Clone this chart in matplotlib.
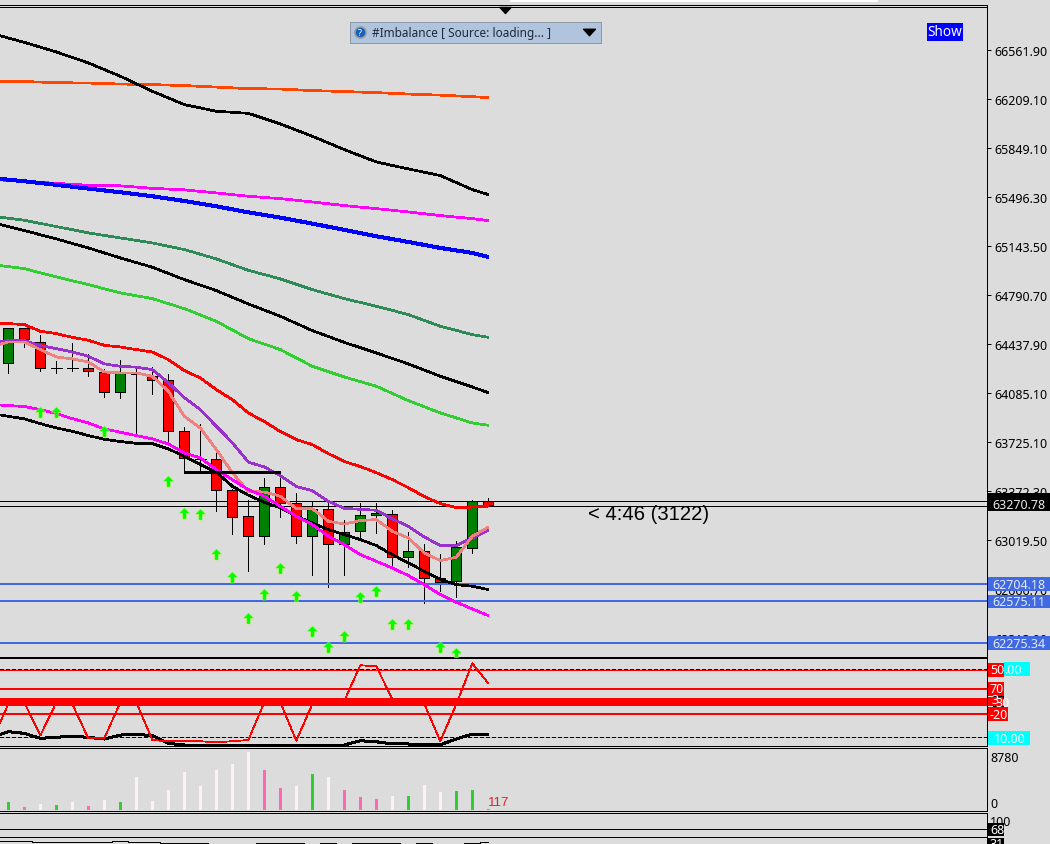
import numpy as np
import matplotlib
matplotlib.use("Agg")
import matplotlib.pyplot as plt
from matplotlib.lines import Line2D
from matplotlib.patches import Rectangle
from matplotlib.path import Path

W, H = 1050, 845
BG = '#DCDCDC'

# candles, bar 0..30
opens = [64308.3, 64560.3, 64459.5, 64272.3, 64272.3, 64272.3, 64243.5, 64099.5, 64229.1, 64214.7,
         64185.9, 63818.7, 63617.1, 63617.1, 63393.9, 63206.7, 63062.7, 63415.5, 63300.3, 63062.7,
         63257.1, 63005.1, 63098.7, 63213.9, 63221.1, 62911.5, 62954.7, 62760.3, 62738.7, 62976.3, 63314.7]
closes = [64560.3, 64481.1, 64272.3, 64272.3, 64272.3, 64246.0, 64099.5, 64243.5, 64229.1, 64185.9,
          63818.7, 63624.3, 63617.1, 63393.9, 63199.5, 63062.7, 63415.5, 63300.3, 63062.7, 63257.1,
          63005.1, 63091.5, 63213.9, 63228.3, 62911.5, 62954.7, 62760.3, 62731.5, 62983.5, 63314.7, 63285.9]
highs = [64560.3, 64560.3, 64509.9, 64322.7, 64452.3, 64373.1, 64265.1, 64329.9, 64286.7, 64279.5,
         64229.1, 63847.5, 63869.1, 63667.5, 63400.0, 63321.9, 63480.3, 63480.3, 63372.3, 63307.5,
         63307.5, 63177.9, 63300.3, 63300.3, 63249.9, 63091.5, 63005.1, 62933.1, 63026.7, 63321.9, 63336.3]
lows = [64236.3, 64423.5, 64250.7, 64236.3, 64250.7, 64214.7, 64063.5, 64056.3, 63797.1, 64085.1,
        63739.5, 63516.3, 63523.5, 63242.7, 63077.1, 62810.7, 63005.1, 63199.5, 63012.3, 62781.9,
        62695.5, 62781.9, 63033.9, 63084.3, 62853.9, 62839.5, 62580.3, 62666.7, 62623.5, 62940.3, 63285.9]

# slow averages, read every second bar
slow_idx = [-1, 1, 3, 5, 7, 9, 11, 13, 15, 17, 19, 21, 23, 25, 27, 29, 30]
orange_ma = [66335, 66332, 66324, 66321, 66314, 66310, 66303, 66292, 66281, 66278, 66267, 66260, 66252, 66242, 66234, 66223, 66216]
black_top = [66677, 66614, 66545, 66466, 66370, 66262, 66166, 66118, 66103, 66027, 65938, 65842, 65753, 65703, 65655, 65554, 65518]
magenta_top = [65626, 65614, 65599, 65585, 65581, 65563, 65552, 65530, 65506, 65489, 65465, 65439, 65417, 65393, 65367, 65345, 65331]
blue_ma = [65637, 65614, 65588, 65561, 65535, 65506, 65472, 65434, 65390, 65352, 65309, 65264, 65218, 65177, 65134, 65098, 65069]
sea_ma = [65363, 65333, 65288, 65242, 65206, 65170, 65122, 65055, 64973, 64911, 64834, 64769, 64714, 64654, 64570, 64510, 64490]
black_mid = [65316, 65259, 65199, 65134, 65062, 64995, 64906, 64827, 64731, 64642, 64539, 64454, 64378, 64299, 64210, 64133, 64092]
lime_ma = [65014, 64985, 64925, 64870, 64810, 64769, 64697, 64606, 64481, 64402, 64282, 64205, 64138, 64035, 63946, 63874, 63857]

# fast averages, every bar from -1
fast_idx = list(range(-1, 31))
red_ma = [64596, 64589, 64582, 64534, 64517, 64490, 64469, 64433, 64421, 64402, 64385, 64330, 64251, 64198, 64114, 64042,
          63946, 63884, 63812, 63754, 63718, 63653, 63596, 63560, 63516, 63466, 63408, 63344, 63293, 63264, 63268, 63275]
purple_ma = [64452, 64467, 64467, 64431, 64409, 64385, 64354, 64299, 64282, 64275, 64258, 64164, 64056, 63970, 63850, 63732,
             63592, 63557, 63495, 63416, 63387, 63310, 63259, 63252, 63245, 63183, 63130, 63053, 62991, 62991, 63046, 63101]
salmon_ma = [64424, 64457, 64457, 64402, 64349, 64335, 64313, 64241, 64234, 64234, 64210, 64102, 63922, 63838, 63682, 63516,
             63380, 63377, 63346, 63257, 63257, 63166, 63146, 63171, 63178, 63094, 63046, 62938, 62883, 62907, 63058, 63123]
magenta_low = [64006, 63999, 63992, 63970, 63941, 63905, 63874, 63831, 63807, 63783, 63759, 63723, 63658, 63622, 63538, 63466,
               63394, 63346, 63274, 63202, 63142, 63058, 62998, 62926, 62878, 62830, 62775, 62710, 62638, 62583, 62535, 62487]
black_low = [63941, 63922, 63903, 63869, 63838, 63814, 63783, 63756, 63740, 63727, 63725, 63687, 63634, 63574, 63519, 63418,
             63354, 63303, 63262, 63202, 63154, 63106, 63070, 63034, 62991, 62926, 62866, 62806, 62746, 62710, 62698, 62674]

# buy arrows
arrow_idx = [2, 3, 6, 10, 11, 12, 13, 14, 15, 16, 17, 18, 19, 20, 21, 22, 23, 24, 25, 27, 28]
arrow_price = [63955.5, 63955.5, 63818.7, 63458.7, 63228.3, 63221.1, 62933.1, 62767.5, 62472.3, 62645.1, 62832.3,
               62630.7, 62378.7, 62263.5, 62342.7, 62623.5, 62666.7, 62429.1, 62429.1, 62263.5, 62220.3]

# price levels
level_prices = [62717, 62595, 62292]
level_labels = ['62704.18', '62575.11', '62275.34']
current_lines = [63312.5, 63278.7]
current_label = '63270.78'
box_level = 63521
box_idx = [11, 17]

tick_prices = [66561.9, 66209.1, 65856.3, 65503.5, 65150.7, 64797.9, 64445.1, 64092.3, 63739.5, 63386.7, 63033.9, 62681.1, 62328.3]
tick_labels = ['66561.90', '66209.10', '65849.10', '65496.30', '65143.50', '64790.70', '64437.90', '64085.10',
               '63725.10', '63372.30', '63019.50', '62666.70', '62313.90']

# oscillator
osc_red = [8.4, 29.4, 30.4, 11, 30.4, 29.4, 9.4, 9.4, 30.4, 30.4, 8.4, 7.7, 7.7, 7.7, 7.1, 7.7,
           8.4, 30.4, 30.4, 8, 29.4, 30.4, 31.3, 52, 51.4, 32.3, 30.4, 29.4, 7.7, 29.4, 53.1, 41.5]
osc_black = [10, 13.3, 12.3, 9.4, 10, 10.6, 10, 9, 11.3, 11.7, 11, 6.5, 5.5, 5.5, 5.5, 5.5,
             5.5, 5.5, 5.5, 5.5, 5.5, 5.5, 5.5, 8, 7.4, 6.1, 6.1, 5.5, 5.7, 9, 11.9, 11.9]
osc_levels = [49.2, 38.3, 23.6]
osc_band = 30.7
osc_dotted = [50, 10]

# volume
volume = [1211, 453, 906, 755, 1211, 604, 1510, 1211, 4983, 1359, 3020, 5738, 3624, 6040, 6946, 8780,
          6040, 3322, 3624, 5436, 4983, 3020, 1963, 1661, 2114, 2114, 3775, 2718, 2869, 3020, 117]
vol_kind = ['g', 'p', 'w', 'g', 'w', 'p', 'w', 'g', 'w', 'w', 'w', 'w', 'w', 'w', 'w', 'w',
            'p', 'p', 'w', 'g', 'w', 'p', 'p', 'p', 'w', 'g', 'w', 'w', 'g', 'g', 'p']
vol_colors = {'g': '#32CD32', 'p': '#FF69B4', 'w': '#FFF0F5'}

# bottom pane
rsi_line = [44, 44, 44, 42, 42, 42, 42, 42, 44, 42, 42, 40, 40, 40, 38, 38, 38, 40, 40, 40, 38, 40, 38, 40, 40, 40, 38, 40, 38, 38, 40, 42]
rsi_levels = [68, 52.6]

plt.rcParams['font.family'] = ['Noto Sans', 'DejaVu Sans']
plt.rcParams['lines.antialiased'] = False
plt.rcParams['lines.solid_capstyle'] = 'butt'

fig = plt.figure(figsize=(W / 100, H / 100), dpi=100, facecolor=BG)
PX = 72 / 100  # one pixel in points
THIN = PX * 0.8
RIGHT = 986.5
x_left, x_right = -8.3 / 16, (RIGHT - 8.3) / 16
flat_tri = Path([(-1, 0.55), (1, 0.55), (0, -0.55), (-1, 0.55)], closed=True)


def pane(top, bottom, ylim):
    ax = fig.add_axes([0, 1 - bottom / H, RIGHT / W, (bottom - top) / H], facecolor=BG)
    ax.set_xlim(x_left, x_right)
    ax.set_ylim(*ylim)
    ax.set_xticks([])
    ax.spines['left'].set_visible(False)
    for s in ax.spines.values():
        s.set_linewidth(PX)
    ax.yaxis.tick_right()
    ax.set_yticks([])
    return ax


def box(x0, y0, x1, y1, color, z=6, ec='none'):
    fig.add_artist(Rectangle((x0 / W, 1 - y1 / H), (x1 - x0) / W, (y1 - y0) / H, transform=fig.transFigure,
                             facecolor=color, edgecolor=ec, linewidth=PX, zorder=z))


def label(x, y, s, color='white', size=9, z=7, **kw):
    fig.text(x / W, 1 - y / H, s, color=color, fontsize=size, va='center', zorder=z, **kw)


# main price pane, nudged 0.6 px down to sit on the reference rows
ax = pane(6, 657.7, (66921.9 - 7.2 * (657.7 - 0.6), 66921.9 - 7.2 * (6 - 0.6)))
bars = np.arange(len(opens))
ax.vlines(bars, lows, highs, color='black', linewidth=THIN, zorder=2, antialiased=False)
for i in bars:
    o, c = opens[i], closes[i]
    if o == c:
        ax.hlines(o, i - 0.34, i + 0.34, color='black', linewidth=THIN, zorder=3, antialiased=False)
    else:
        ax.bar(i, abs(c - o), bottom=min(o, c), width=0.62, facecolor='#008000' if c > o else '#FF0000',
               edgecolor='black', linewidth=THIN, zorder=3, antialiased=False)

ax.axhline(66866, color='black', linewidth=THIN)
for p in current_lines:
    ax.axhline(p, color='black', linewidth=THIN, zorder=2)
for p in level_prices:
    ax.axhline(p, color='#4169E1', linewidth=PX * 2, zorder=2)

ax.plot(slow_idx, orange_ma, color='#FF4500', linewidth=PX * 1.7, zorder=4)
ax.plot(slow_idx, black_top, color='black', linewidth=PX * 1.7, zorder=4)
ax.plot(slow_idx, magenta_top, color='#FF00FF', linewidth=PX * 1.7, zorder=4)
ax.plot(slow_idx, blue_ma, color='#0000FF', linewidth=PX * 3, zorder=4)
ax.plot(slow_idx, sea_ma, color='#2E8B57', linewidth=PX * 1.7, zorder=4)
ax.plot(slow_idx, black_mid, color='black', linewidth=PX * 1.7, zorder=4)
ax.plot(slow_idx, lime_ma, color='#32CD32', linewidth=PX * 1.7, zorder=4)
ax.plot(fast_idx, black_low, color='black', linewidth=PX * 1.7, zorder=4)
ax.plot(fast_idx, red_ma, color='#FF0000', linewidth=PX * 1.7, zorder=4)
ax.plot(fast_idx, purple_ma, color='#9932CC', linewidth=PX * 1.7, zorder=4)
ax.plot(fast_idx, salmon_ma, color='#F08080', linewidth=PX * 1.7, zorder=4)
ax.plot(fast_idx, magenta_low, color='#FF00FF', linewidth=PX * 1.7, zorder=4)
ax.plot(box_idx, [box_level, box_level], color='black', linewidth=PX * 3, zorder=4)

arrow = Path([(0, 1), (0.95, 0.05), (0.32, 0.05), (0.32, -1), (-0.32, -1), (-0.32, 0.05), (-0.95, 0.05), (0, 1)], closed=True)
ax.plot(arrow_idx, arrow_price, linestyle='none', marker=arrow, markersize=8, color='#00FF00',
        markeredgecolor='#B8FF40', markeredgewidth=0.3, zorder=5, antialiased=True)

ax.set_yticks(tick_prices)
ax.set_yticklabels(tick_labels)
ax.tick_params(axis='y', right=True, length=3, width=PX, pad=3, labelsize=9, labelcolor='black')

# top of the chart
fig.add_artist(Line2D([505 / W], [1 - 11 / H], marker=flat_tri, markersize=8, color='black', linestyle='none',
                      transform=fig.transFigure, zorder=6))
box(510, 0, 878, 3, 'white', z=6)
box(349.5, 22.5, 600.5, 43.5, '#B0C4DE', ec='#8C9AAA')
fig.add_artist(Line2D([360 / W], [1 - 33 / H], marker='o', markersize=8, markerfacecolor='#1560BD', markeredgecolor='#9A9A9A',
                      markeredgewidth=1.2, linestyle='none', transform=fig.transFigure, zorder=7, antialiased=True))
label(360, 33, '?', size=6.5, z=8, ha='center', fontweight='bold')
label(372, 33, '#Imbalance [ Source: loading... ]', color='#1E2A3A', size=8.5)
fig.add_artist(Line2D([589 / W], [1 - 33 / H], marker=flat_tri, markersize=8.5, color='black', linestyle='none',
                      transform=fig.transFigure, zorder=7))
box(927, 24, 963, 42, '#0000FF')
label(945, 33, 'Show', size=9.8, ha='center')
fig.text(588 / W, 1 - 514 / H, '< 4:46 (3122)', fontsize=14.6, family='Liberation Sans', color='black', va='center', zorder=7)

# price label boxes
box(988, 494, 1050, 512, 'black')
label(992, 505.5, current_label, color='#E8E8E8')
for (y0, y1), s in zip([(578, 592), (596, 609), (637, 651)], level_labels):
    box(988, y0, 1050, y1, '#4169E1')
    label(992, (y0 + y1) / 2 + 0.4, s, color='#E4EAF8')

# oscillator pane
ax2 = pane(659.3, 747.3, (50 - (747.3 - 669.7) / 1.715, 50 + (669.7 - 659.3) / 1.715))
for v in osc_levels:
    ax2.axhline(v, color='#FF0000', linewidth=PX * 2, zorder=3)
ax2.axhline(osc_band, color='#FF0000', linewidth=PX * 8, zorder=3)
for v in osc_dotted:
    ax2.axhline(v, color='#00FFFF', linewidth=THIN, zorder=3.5)
    ax2.axhline(v, color='black', linewidth=THIN, linestyle=(0, (5, 3)), zorder=3.6)
ax2.plot(fast_idx, osc_black, color='black', linewidth=PX * 2, zorder=4)
ax2.plot(fast_idx, osc_red, color='#FF0000', linewidth=THIN, zorder=5)

box(1004, 663, 1030, 677, '#00FFFF')
label(1004, 670, '.00', size=9)
box(988, 664, 1004, 678, '#FF0000')
label(990, 671, '50')
box(988, 683, 1004, 697, '#FF0000')
label(990, 690, '70')
box(993, 697, 1004, 708, 'black')
label(995, 704, '30')
box(988, 698, 1003, 707, '#FF0000')
label(991, 701, '3')
box(988, 708, 1008, 722, '#FF0000')
label(989, 715.5, '-20')
box(988, 732, 1030, 746, '#00FFFF')
label(994, 739.5, '10.00')

# volume pane
ax3 = pane(749.3, 812.3, (-196, 9317))
ax3.bar(bars, volume, width=0.19, color=[vol_colors[k] for k in vol_kind], zorder=3, antialiased=False)
label(990, 758.5, '8780', color='black')
label(990, 804.5, '0', color='black')
fig.text(488 / W, 1 - 803 / H, str(volume[-1]), fontsize=9.5, family='Liberation Sans', color='#E62020', va='center', zorder=7)

# bottom pane
ax4 = pane(814.3, H + 2, (100 - (H + 2 - 814.3) * 2, 100))
for v in rsi_levels:
    ax4.axhline(v, color='black', linewidth=THIN)
ax4.plot(fast_idx, rsi_line, color='black', linewidth=THIN, drawstyle='steps-mid')
label(990, 823, '100', color='black')
box(988, 824, 1004, 837, 'black')
label(990, 830.5, '68')
box(988, 839, 1004, 850, 'black')
label(990, 845, '31')

fig.savefig('out.png', dpi=100, facecolor=BG)
